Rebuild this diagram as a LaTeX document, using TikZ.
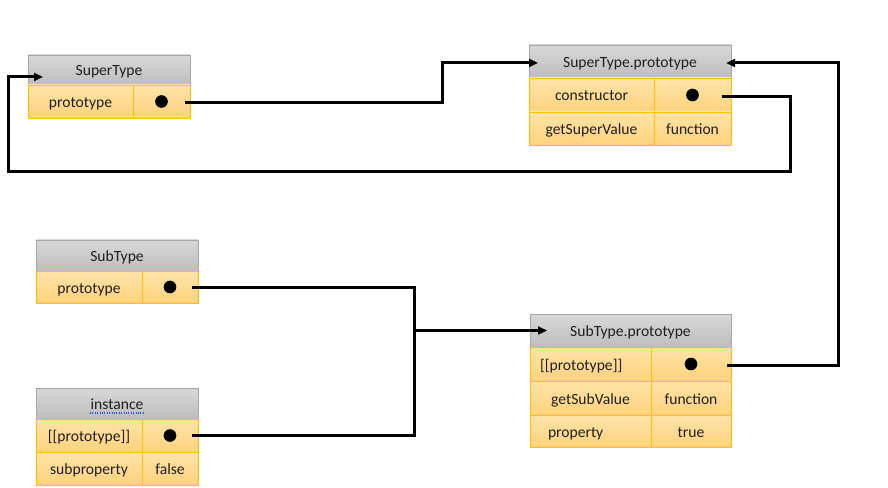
\documentclass[tikz,border=0pt]{standalone}
\usepackage{fontspec}
\setmainfont{Carlito}
\usetikzlibrary{arrows.meta,calc,positioning}
\definecolor{hdrtop}{HTML}{D8D8D8}
\definecolor{hdrbot}{HTML}{BDBDBD}
\definecolor{hdrline}{HTML}{A6A6A6}
\definecolor{celltop}{HTML}{FFE4A8}
\definecolor{cellbot}{HTML}{FFD27E}
\definecolor{cellline}{HTML}{FFC000}
\definecolor{spell}{HTML}{3050E0}

\begin{document}
\begin{tikzpicture}[x=0.75pt,y=-0.75pt,
  sz/.style 2 args={minimum width=#1*0.75pt,minimum height=#2*0.75pt},
  hdr/.style={draw=hdrline,top color=hdrtop,bottom color=hdrbot,anchor=north west,
    inner sep=0pt,outer sep=0pt,font=\fontsize{11.7}{14}\selectfont,text=black!88,
    text height=10pt,text depth=1pt},
  cell/.style={draw=cellline,top color=celltop,bottom color=cellbot,anchor=north west,
    inner sep=0pt,outer sep=0pt,font=\fontsize{11.7}{14}\selectfont,text=black!88,
    text height=10pt,text depth=1pt},
  dot/.style={circle,fill=black,inner sep=0pt,minimum size=9.5pt},
  wire/.style={line width=2.25pt},
  >={Triangle[length=6.75pt,width=6pt]}]
\fill[white] (0,0) rectangle (888,488);
\useasboundingbox (0,0) rectangle (888,488);

% SuperType
\node[hdr,sz={162}{30}] (sup) at (28,55) {SuperType};
\node[cell,sz={105}{33}] (supk) at (sup.south west) {prototype};
\node[cell,sz={57}{33},right=0pt of supk] (supv) {};
\node[dot] (supd) at (supv) {};

% SuperType.prototype
\node[hdr,sz={202}{33}] (stp) at (529,45) {SuperType.prototype};
\node[cell,sz={125}{34}] (stpk1) at (stp.south west) {constructor};
\node[cell,sz={77}{34},right=0pt of stpk1] (stpv1) {};
\node[cell,sz={125}{33},below=0pt of stpk1] (stpk2) {getSuperValue};
\node[cell,sz={77}{33},right=0pt of stpk2] (stpv2) {function};
\node[dot] (stpd) at (stpv1) {};

% SubType
\node[hdr,sz={162}{31}] (sub) at (36,240) {SubType};
\node[cell,sz={106}{32}] (subk) at (sub.south west) {prototype};
\node[cell,sz={56}{32},right=0pt of subk] (subv) {};
\node[dot] (subd) at (subv) {};

% instance
\node[hdr,sz={162}{31}] (ins) at (36,388) {instance};
\node[cell,sz={106}{33}] (insk1) at (ins.south west) {[[prototype]]};
\node[cell,sz={56}{33},right=0pt of insk1] (insv1) {};
\node[cell,sz={106}{33},below=0pt of insk1] (insk2) {subproperty};
\node[cell,sz={56}{33},right=0pt of insk2] (insv2) {false};
\node[dot] (insd) at (insv1) {};
\draw[spell,densely dotted,line width=0.8pt] ($(ins.south)+(-27,-6)$) -- ++(53,0);

% SubType.prototype
\node[hdr,sz={201}{33}] (sbp) at (530,314) {SubType.prototype};
\node[cell,sz={121}{34},align=left,inner xsep=7.5pt,text width=75.75pt] (sbpk1) at (sbp.south west) {[[prototype]]};
\node[cell,sz={80}{34},right=0pt of sbpk1] (sbpv1) {};
\node[cell,sz={121}{34},below=0pt of sbpk1] (sbpk2) {getSubValue};
\node[cell,sz={80}{34},right=0pt of sbpk2] (sbpv2) {function};
\node[cell,sz={121}{32},below=0pt of sbpk2,align=left,inner xsep=13.5pt,text width=63.75pt] (sbpk3) {property};
\node[cell,sz={80}{32},right=0pt of sbpk3] (sbpv3) {true};
\node[dot] (sbpd) at (sbpv1) {};

% bends
\coordinate (j1) at (442,80);
\coordinate (loopr) at (790,172);
\coordinate (loopl) at (8,172);
\coordinate (rr) at (838,200);
\coordinate (mid) at ($(sbp.west)+(-116,0)$);

% links
\draw[wire,->] ($(supv.east)+(-5,1.5)$) -| (j1) |- ($(stp.west)+(9,1.5)$);
\draw[wire,->] ($(stpv1.east)+(-9,2)$) -| (loopr) -- (loopl) |- ($(sup.west)+(15,7)$);
\draw[wire,->] ($(sbpv1.east)+(-4,1)$) -| (rr) |- ($(stp.east)+(-5,1.5)$);
\draw[wire] ($(subv.east)+(-6,0)$) -| (mid) |- ($(insv1.east)+(-6,0)$);
\draw[wire,->] (mid) -- ($(sbp.west)+(17,0)$);
\end{tikzpicture}
\end{document}
